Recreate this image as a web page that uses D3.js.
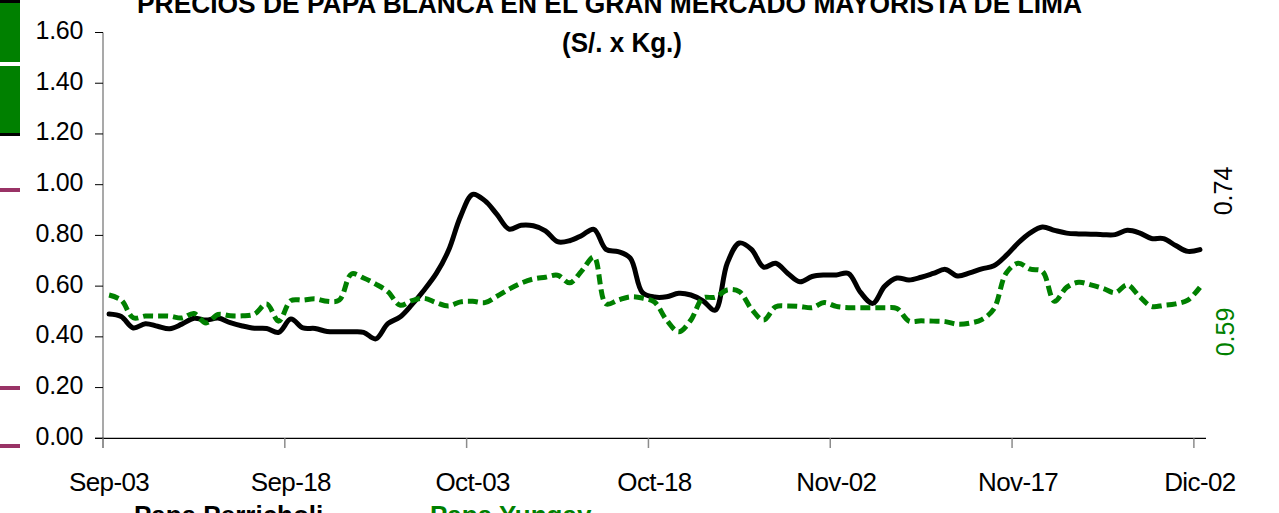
<!DOCTYPE html>
<html>
<head>
<meta charset="utf-8">
<script src="https://cdn.jsdelivr.net/npm/d3@7"></script>
<style>
  html, body { margin: 0; padding: 0; background: #ffffff; overflow: hidden; }
  svg { display: block; font-family: "Liberation Sans", Arial, sans-serif; }
</style>
</head>
<body>
<svg id="chart" width="1279" height="513"></svg>
<script>
// ---------- DATA ----------
const startDate = "2002-09-03";
const endDate = "2002-12-03";
const seriesNames = ["Papa Perricholi", "Papa Yungay"];
const perricholi = [
  0.49, 0.48, 0.435, 0.452, 0.442, 0.432, 0.45, 0.473, 0.466, 0.474,
  0.456, 0.443, 0.434, 0.433, 0.418, 0.47, 0.435, 0.433, 0.421, 0.42,
  0.42, 0.418, 0.392, 0.452, 0.478, 0.528, 0.585, 0.65, 0.74, 0.875,
  0.962, 0.937, 0.883, 0.825, 0.84, 0.838, 0.818, 0.775, 0.779, 0.8,
  0.824, 0.745, 0.736, 0.71, 0.575, 0.557, 0.558, 0.572, 0.565, 0.542,
  0.505, 0.69, 0.77, 0.745, 0.675, 0.69, 0.65, 0.617, 0.638, 0.644,
  0.644, 0.65, 0.575, 0.532, 0.6, 0.632, 0.624, 0.635, 0.65, 0.666,
  0.64, 0.652, 0.668, 0.68, 0.72, 0.77, 0.81, 0.833, 0.82, 0.809,
  0.806, 0.805, 0.803, 0.803, 0.82, 0.81, 0.788, 0.787, 0.76, 0.737,
  0.744
];
const yungay = [
  0.565, 0.545, 0.475, 0.482, 0.482, 0.482, 0.474, 0.492, 0.455, 0.488,
  0.483, 0.483, 0.49, 0.53, 0.462, 0.543, 0.545, 0.55, 0.54, 0.545,
  0.648, 0.632, 0.608, 0.578, 0.525, 0.543, 0.552, 0.535, 0.522, 0.538,
  0.54, 0.535, 0.56, 0.588, 0.612, 0.628, 0.635, 0.643, 0.613, 0.66,
  0.715, 0.53, 0.545, 0.558, 0.553, 0.537, 0.466, 0.42, 0.466, 0.553,
  0.556, 0.585, 0.578, 0.51, 0.466, 0.519, 0.522, 0.52, 0.515, 0.535,
  0.52, 0.515, 0.515, 0.515, 0.515, 0.512, 0.462, 0.463, 0.462, 0.46,
  0.45, 0.454, 0.468, 0.51, 0.65, 0.69, 0.667, 0.658, 0.54, 0.595,
  0.615, 0.605, 0.591, 0.574, 0.605, 0.56, 0.52, 0.524, 0.53, 0.545,
  0.595
];
const lastLabels = ["0.74", "0.59"];
const xTickDates = ["2002-09-03", "2002-09-18", "2002-10-03", "2002-10-18", "2002-11-02", "2002-11-17", "2002-12-02"];
const xTickLabels = ["Sep-03", "Sep-18", "Oct-03", "Oct-18", "Nov-02", "Nov-17", "Dic-02"];
const yTickValues = [0, 0.2, 0.4, 0.6, 0.8, 1.0, 1.2, 1.4, 1.6];
const titleLines = ["PRECIOS DE PAPA BLANCA EN EL GRAN MERCADO MAYORISTA DE LIMA", "(S/. x Kg.)"];

// ---------- SETUP ----------
const svg = d3.select("#chart");
const GREEN = "#008000";
const PURPLE = "#993366";
const parse = d3.utcParse("%Y-%m-%d");
const days = d3.utcDay.range(parse(startDate), parse(endDate));
const mid = d => d3.utcHour.offset(d, 12);

const x = d3.scaleUtc().domain([parse(startDate), parse(endDate)]).range([103, 1206]);
const y = d3.scaleLinear().domain([0, 1.6]).range([438.3, 32.5]);

// left decorative fragments (cropped legend pieces)
svg.append("rect").attr("x", 0).attr("y", 0).attr("width", 20).attr("height", 3).attr("fill", "#000");
svg.append("rect").attr("x", 0).attr("y", 3).attr("width", 20).attr("height", 59).attr("fill", GREEN);
svg.append("rect").attr("x", 0).attr("y", 66).attr("width", 20).attr("height", 67).attr("fill", GREEN);
svg.append("rect").attr("x", 0).attr("y", 133).attr("width", 20).attr("height", 3).attr("fill", "#000");
[190, 388, 446].forEach(v => {
  svg.append("rect").attr("x", 0).attr("y", v - 2).attr("width", 20).attr("height", 4).attr("fill", PURPLE);
});

// ---------- TITLE ----------
svg.append("text").attr("x", 137).attr("y", 13)
  .attr("font-size", 27).attr("font-weight", "bold")
  .attr("textLength", 945).attr("lengthAdjust", "spacingAndGlyphs")
  .text(titleLines[0]);
svg.append("text").attr("x", 562).attr("y", 52)
  .attr("font-size", 27).attr("font-weight", "bold")
  .attr("textLength", 120).attr("lengthAdjust", "spacingAndGlyphs")
  .text(titleLines[1]);

// ---------- AXES ----------
const yAxis = svg.append("g");
yAxis.append("line").attr("x1", 103).attr("x2", 103).attr("y1", y(1.6)).attr("y2", 448)
  .attr("stroke", "#8c8c8c").attr("stroke-width", 1.5);
yTickValues.forEach(v => {
  yAxis.append("line").attr("x1", 95).attr("x2", 103).attr("y1", y(v)).attr("y2", y(v))
    .attr("stroke", "#000").attr("stroke-width", 1);
  yAxis.append("text").attr("x", 83).attr("y", y(v) + 6.5)
    .attr("text-anchor", "end").attr("font-size", 25).attr("letter-spacing", "-0.3px")
    .attr("fill", "#000").text(d3.format(".2f")(v));
});

const xAxis = svg.append("g");
xAxis.append("line").attr("x1", 95).attr("x2", 1206).attr("y1", y(0)).attr("y2", y(0))
  .attr("stroke", "#000").attr("stroke-width", 1.2);
xTickDates.forEach((ds, i) => {
  const d = parse(ds);
  xAxis.append("line").attr("x1", x(d)).attr("x2", x(d)).attr("y1", y(0)).attr("y2", 448)
    .attr("stroke", "#8c8c8c").attr("stroke-width", 1.5);
  xAxis.append("text").attr("x", x(mid(d))).attr("y", 491)
    .attr("text-anchor", "middle").attr("font-size", 26).attr("letter-spacing", "-0.6px")
    .attr("fill", "#000").text(xTickLabels[i]);
});

// ---------- LINES ----------
const line = d3.line()
  .x((v, i) => x(mid(days[i])))
  .y(v => y(v))
  .curve(d3.curveCatmullRom.alpha(0.5));

svg.append("path").attr("d", line(perricholi))
  .attr("fill", "none").attr("stroke", "#000").attr("stroke-width", 5)
  .attr("stroke-linejoin", "round").attr("stroke-linecap", "round");

svg.append("path").attr("d", line(yungay))
  .attr("fill", "none").attr("stroke", GREEN).attr("stroke-width", 5)
  .attr("stroke-dasharray", "10,5");

// ---------- END LABELS ----------
svg.append("text").attr("transform", "translate(1232,191) rotate(-90)")
  .attr("text-anchor", "middle").attr("font-size", 25).attr("fill", "#000").text(lastLabels[0]);
svg.append("text").attr("transform", "translate(1234,332) rotate(-90)")
  .attr("text-anchor", "middle").attr("font-size", 25).attr("fill", GREEN).text(lastLabels[1]);

// ---------- LEGEND (cropped at bottom) ----------
svg.append("text").attr("x", 134).attr("y", 524).attr("font-size", 26).attr("font-weight", "bold")
  .attr("fill", "#000").text(seriesNames[0]);
svg.append("text").attr("x", 430).attr("y", 524).attr("font-size", 26).attr("font-weight", "bold")
  .attr("fill", GREEN).text(seriesNames[1]);
</script>
</body>
</html>
